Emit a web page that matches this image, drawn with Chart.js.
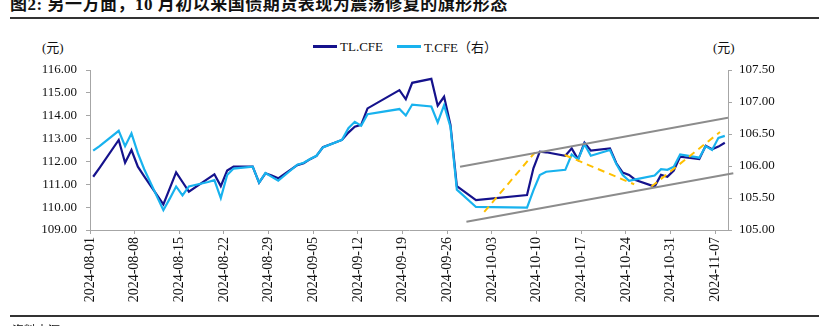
<!DOCTYPE html>
<html>
<head>
<meta charset="utf-8">
<script src="https://cdn.jsdelivr.net/npm/chart.js@4.4.1/dist/chart.umd.min.js"></script>
<style>
  html, body { margin: 0; padding: 0; background: #fff; }
  body { width: 819px; height: 326px; position: relative; overflow: hidden;
         font-family: 'Liberation Serif', 'Noto Sans CJK SC', serif; color: #111; }
  #title { position: absolute; left: 10px; top: -4px; font-size: 17px; font-weight: bold;
           line-height: 17px; white-space: nowrap; letter-spacing: 0.5px; }
  .rule { position: absolute; left: 10px; right: 0; height: 1.5px; background: #333; }
  .unit { position: absolute; top: 37px; font-size: 13px; }
  #legend { position: absolute; top: 37px; left: 313px; font-size: 13px; display: flex; align-items: center; }
  #legend .sw { display: inline-block; width: 24px; height: 2.5px; margin-right: 3px; }
  #legend .item { display: flex; align-items: center; margin-right: 14px; }
  #source { position: absolute; left: 12px; top: 321px; font-size: 12px; white-space: nowrap; }
  canvas { position: absolute; left: 0; top: 0; }
</style>
</head>
<body>
<div id="title">图2: 另一方面，10 月初以来国债期货表现为震荡修复的旗形形态</div>
<div class="rule" style="top:17px"></div>
<span class="unit" style="left:42px">(元)</span>
<span class="unit" style="left:713px">(元)</span>
<div id="legend">
  <span class="item"><span class="sw" style="background:#15128C"></span>TL.CFE</span>
  <span class="item"><span class="sw" style="background:#18B2EE"></span>T.CFE（右）</span>
</div>
<canvas id="chart" width="819" height="326"></canvas>
<div class="rule" style="top:315px"></div>
<div id="source">资料来源：Wind</div>

<script>
// 交易日
const dates = [
  '2024-08-01', '2024-08-02', '2024-08-05', '2024-08-06', '2024-08-07', '2024-08-08', '2024-08-09',
  '2024-08-12', '2024-08-13', '2024-08-14', '2024-08-15', '2024-08-16',
  '2024-08-19', '2024-08-20', '2024-08-21', '2024-08-22', '2024-08-23',
  '2024-08-26', '2024-08-27', '2024-08-28', '2024-08-29', '2024-08-30',
  '2024-09-02', '2024-09-03', '2024-09-04', '2024-09-05', '2024-09-06',
  '2024-09-09', '2024-09-10', '2024-09-11', '2024-09-12', '2024-09-13',
  '2024-09-18', '2024-09-19', '2024-09-20',
  '2024-09-23', '2024-09-24', '2024-09-25', '2024-09-26', '2024-09-27',
  '2024-09-30',
  '2024-10-08', '2024-10-09', '2024-10-10', '2024-10-11',
  '2024-10-14', '2024-10-15', '2024-10-16', '2024-10-17', '2024-10-18',
  '2024-10-21', '2024-10-22', '2024-10-23', '2024-10-24', '2024-10-25',
  '2024-10-28', '2024-10-29', '2024-10-30', '2024-10-31', '2024-11-01',
  '2024-11-04', '2024-11-05', '2024-11-06', '2024-11-07', '2024-11-08',
];

// TL.CFE 收盘价（左轴）
const tlClose = [
  111.33, 111.72, 112.94, 111.94, 112.50, 111.77, 111.35,
  110.12, 110.82, 111.52, 111.10, 110.68,
  111.25, 111.44, 110.92, 111.60, 111.77,
  111.77, 111.07, 111.48, 111.38, 111.26,
  111.84, 111.92, 112.10, 112.24, 112.62,
  112.94, 113.26, 113.52, 113.60, 114.32,
  115.12, 114.72, 115.44,
  115.61, 114.44, 114.83, 113.60, 110.92,
  110.31,
  110.53, 111.70, 112.43, 112.40,
  112.25, 112.57, 112.09, 112.82, 112.47,
  112.57, 111.92, 111.51, 111.41, 111.19,
  110.90, 111.41, 111.33, 111.60, 112.21,
  112.10, 112.68, 112.53, 112.65, 112.82,
];

// T.CFE 收盘价（右轴）
const tClose = [
  106.24, 106.31, 106.55, 106.31, 106.51, 106.20, 105.95,
  105.31, 105.49, 105.68, 105.54, 105.68,
  105.75, 105.78, 105.50, 105.86, 105.96,
  105.99, 105.74, 105.89, 105.83, 105.77,
  106.02, 106.05, 106.11, 106.16, 106.29,
  106.41, 106.59, 106.69, 106.63, 106.81,
  106.89, 106.79, 106.96,
  106.93, 106.68, 106.95, 106.61, 105.63,
  105.36,
  105.35, 105.62, 105.86, 105.91,
  105.94, 106.18, 106.10, 106.34, 106.16,
  106.25, 106.03, 105.86, 105.77, 105.79,
  105.85, 105.95, 105.94, 105.99, 106.18,
  106.13, 106.31, 106.25, 106.44, 106.47,
];

// 旗形通道（左轴刻度）
const channelTopDates = ['2024-09-28T00:00', '2024-11-09T00:00'];
const channelTopValues = [111.77, 113.91];
const channelLowDates = ['2024-09-29T00:00', '2024-11-09T20:00'];
const channelLowValues = [109.36, 111.48];

// 震荡走势虚线
const swingDates = [
  ['2024-10-01T19:00', '2024-10-09T18:00'],
  ['2024-10-14T10:00', '2024-10-25T07:00'],
  ['2024-10-28T00:00', '2024-11-07T18:00'],
];
const swingValues = [
  [109.79, 112.40],
  [112.28, 111.00],
  [110.90, 113.29],
];

const tickDates = [
  '2024-08-01', '2024-08-08', '2024-08-15', '2024-08-22', '2024-08-29',
  '2024-09-05', '2024-09-12', '2024-09-19', '2024-09-26', '2024-10-03',
  '2024-10-10', '2024-10-17', '2024-10-24', '2024-10-31', '2024-11-07',
];

const DAY0 = Date.UTC(2024, 7, 1);
// 日期 -> 距 8/1 的天数；交易日画在当日中点
const dayPos = s => (Date.parse(s.length === 10 ? s + 'T12:00:00Z' : s + ':00Z') - DAY0) / 864e5;
const toPoints = (ds, vs) => vs.map((v, i) => ({ x: dayPos(ds[i]), y: v }));

const AXIS = '#A6A6A6';
const FONT = { family: "'Liberation Serif', 'Noto Sans CJK SC', serif", size: 13 };

const guide = (ds, vs, color, dash, extra = {}) => ({
  data: toPoints(ds, vs),
  yAxisID: 'y',
  borderColor: color,
  borderWidth: 2,
  borderDash: dash,
  ...extra,
});

new Chart(document.getElementById('chart'), {
  type: 'line',
  data: {
    datasets: [
      guide(channelTopDates, channelTopValues, '#8C8C8C', []),
      guide(channelLowDates, channelLowValues, '#8C8C8C', [], { clip: false }),
      ...swingDates.map((ds, i) => guide(ds, swingValues[i], '#FFC000', [7, 5])),
      {
        label: 'T.CFE（右）',
        data: toPoints(dates, tClose),
        yAxisID: 'y1',
        borderColor: '#18B2EE',
        borderWidth: 2.2,
      },
      {
        label: 'TL.CFE',
        data: toPoints(dates, tlClose),
        yAxisID: 'y',
        borderColor: '#15128C',
        borderWidth: 2.2,
      },
    ],
  },
  options: {
    responsive: false,
    animation: false,
    devicePixelRatio: 1,
    layout: { padding: { top: 70, left: 0, right: 0, bottom: 0 } },
    elements: { point: { radius: 0 }, line: { tension: 0 } },
    plugins: { legend: { display: false }, tooltip: { enabled: false } },
    scales: {
      x: {
        type: 'linear',
        min: 0,
        max: 100,
        afterBuildTicks: s => { s.ticks = tickDates.map(d => ({ value: dayPos(d + 'T00:00') })); },
        afterFit: s => { s.height = 96; },
        grid: { drawOnChartArea: false, tickLength: 4, color: AXIS },
        border: { color: AXIS },
        ticks: {
          autoSkip: false,
          minRotation: 90,
          maxRotation: 90,
          padding: 3,
          color: '#111',
          font: { ...FONT, size: 14 },
          callback: (v, i) => tickDates[i],
        },
      },
      y: {
        position: 'left',
        min: 109,
        max: 116,
        afterFit: s => { s.width = 90; },
        grid: { drawOnChartArea: false, tickLength: 4, color: AXIS },
        border: { color: AXIS },
        ticks: { stepSize: 1, padding: 9, color: '#111', font: FONT, callback: v => v.toFixed(2) },
      },
      y1: {
        position: 'right',
        min: 105,
        max: 107.5,
        afterFit: s => { s.width = 91; },
        grid: { drawOnChartArea: false, tickLength: 4, color: AXIS },
        border: { color: AXIS },
        ticks: { stepSize: 0.5, padding: 7, color: '#111', font: FONT, callback: v => v.toFixed(2) },
      },
    },
  },
});
</script>
</body>
</html>
